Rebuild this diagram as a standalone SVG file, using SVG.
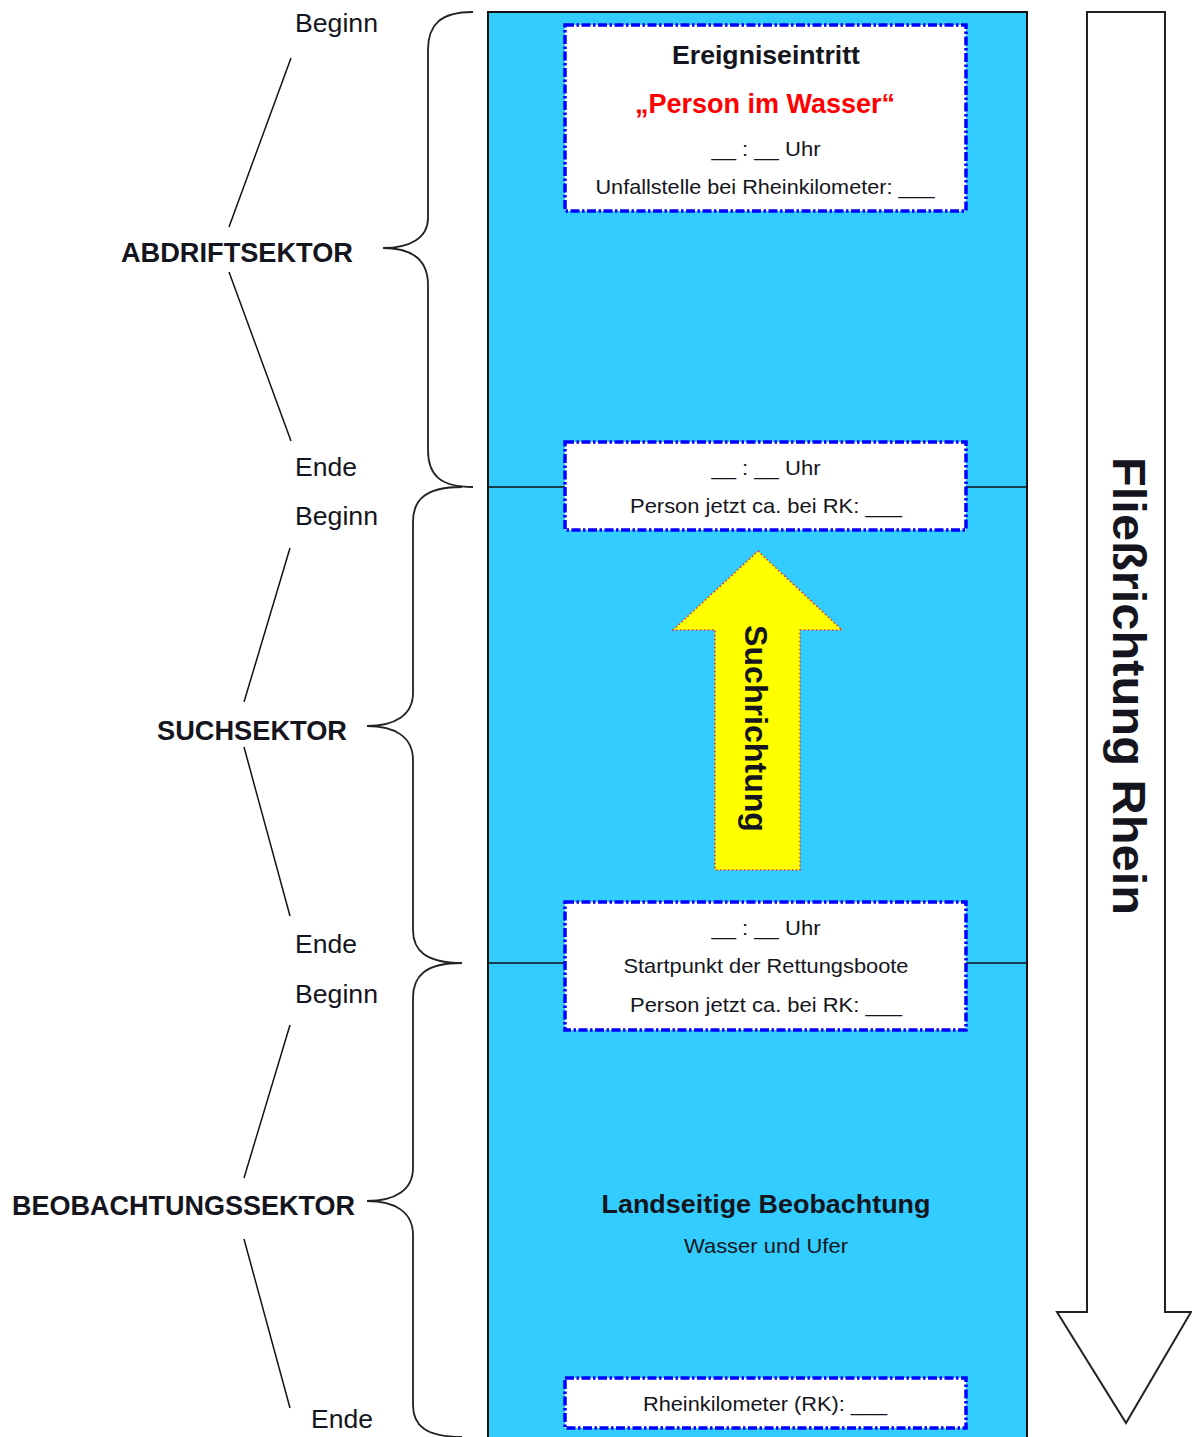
<svg xmlns="http://www.w3.org/2000/svg" width="1192" height="1437" viewBox="0 0 1192 1437">
<style>
text{font-family:"Liberation Sans",Arial,sans-serif;fill:#151520}
.c{text-anchor:middle}
.b{font-weight:bold}
.box{fill:#fff;stroke:#0000ff;stroke-width:3.5;stroke-dasharray:9 2.5 2.5 2.5}
.ln{stroke:#111;stroke-width:1.5;fill:none}
.br{stroke:#222;stroke-width:1.8;fill:none}
.lbl{font-size:25px}
.sec{font-size:27px;font-weight:bold}
.sm{font-size:21px}
</style>
<rect width="1192" height="1437" fill="#fff"/>
<g id="river">
<rect x="488" y="12" width="539" height="1440" fill="#33ccff" stroke="#111" stroke-width="2"/>
</g>
<g id="connectors">
<line class="ln" x1="488" y1="487" x2="565" y2="487"/>
<line class="ln" x1="966" y1="487" x2="1027" y2="487"/>
<line class="ln" x1="488" y1="963" x2="565" y2="963"/>
<line class="ln" x1="966" y1="963" x2="1027" y2="963"/>
<path class="br" d="M473,12 C440,12 428,25 428,50 L428,218 C428,238 410,248 383,248 C410,248 428,258 428,285 L428,450 C428,475 440,487 473,487"/>
<path class="br" d="M462,487 C425,487 413,500 413,522 L413,693 C413,715 395,726 367,726 C395,726 413,737 413,760 L413,930 C413,950 425,963 462,963"/>
<path class="br" d="M462,963 C425,963 413,976 413,998 L413,1168 C413,1190 395,1201 367,1201 C395,1201 413,1212 413,1235 L413,1405 C413,1425 425,1437 462,1437"/>
<line class="ln" x1="291" y1="58" x2="229" y2="227"/>
<line class="ln" x1="229" y1="272" x2="291" y2="441"/>
<line class="ln" x1="290" y1="548" x2="244" y2="702"/>
<line class="ln" x1="244" y1="747" x2="290" y2="916"/>
<line class="ln" x1="290" y1="1025" x2="244" y2="1178"/>
<line class="ln" x1="244" y1="1239" x2="290" y2="1408"/>
</g>
<g id="abdrift-labels">
<text class="lbl" x="295" y="32" textLength="83" lengthAdjust="spacingAndGlyphs">Beginn</text>
<text class="sec" x="121" y="262" textLength="232" lengthAdjust="spacingAndGlyphs">ABDRIFTSEKTOR</text>
<text class="lbl" x="295" y="476" textLength="62" lengthAdjust="spacingAndGlyphs">Ende</text>
</g>
<g id="such-labels">
<text class="lbl" x="295" y="525" textLength="83" lengthAdjust="spacingAndGlyphs">Beginn</text>
<text class="sec" x="157" y="740" textLength="190" lengthAdjust="spacingAndGlyphs">SUCHSEKTOR</text>
<text class="lbl" x="295" y="953" textLength="62" lengthAdjust="spacingAndGlyphs">Ende</text>
</g>
<g id="beob-labels">
<text class="lbl" x="295" y="1003" textLength="83" lengthAdjust="spacingAndGlyphs">Beginn</text>
<text class="sec" x="12" y="1215" textLength="343" lengthAdjust="spacingAndGlyphs">BEOBACHTUNGSSEKTOR</text>
<text class="lbl" x="311" y="1428" textLength="62" lengthAdjust="spacingAndGlyphs">Ende</text>
</g>
<g id="box-ereignis">
<rect class="box" x="565" y="25" width="401" height="186"/>
<text class="c b" x="766" y="64" font-size="26" textLength="188" lengthAdjust="spacingAndGlyphs">Ereigniseintritt</text>
<text class="c b" x="765" y="113" font-size="27" style="fill:#ff0000" textLength="260" lengthAdjust="spacingAndGlyphs">„Person im Wasser“</text>
<text class="c sm" x="766" y="156" textLength="109" lengthAdjust="spacingAndGlyphs">__ : __ Uhr</text>
<text class="c sm" x="765" y="194" textLength="339" lengthAdjust="spacingAndGlyphs">Unfallstelle bei Rheinkilometer: ___</text>
</g>
<g id="box-person1">
<rect class="box" x="565" y="442" width="401" height="88"/>
<text class="c sm" x="766" y="475" textLength="109" lengthAdjust="spacingAndGlyphs">__ : __ Uhr</text>
<text class="c sm" x="766" y="513" textLength="272" lengthAdjust="spacingAndGlyphs">Person jetzt ca. bei RK: ___</text>
</g>
<g id="arrow-such">
<polygon points="758,551 842,630 800,630 800,870 715,870 715,630 673,630" fill="#ffff00" stroke="#ff2020" stroke-width="1.5" stroke-dasharray="1.5 2.5"/>
<text class="c b" transform="translate(745,728.5) rotate(90)" font-size="31" textLength="207" lengthAdjust="spacingAndGlyphs">Suchrichtung</text>
</g>
<g id="box-start">
<rect class="box" x="565" y="902" width="401" height="128"/>
<text class="c sm" x="766" y="935" textLength="109" lengthAdjust="spacingAndGlyphs">__ : __ Uhr</text>
<text class="c sm" x="766" y="973" textLength="285" lengthAdjust="spacingAndGlyphs">Startpunkt der Rettungsboote</text>
<text class="c sm" x="766" y="1012" textLength="272" lengthAdjust="spacingAndGlyphs">Person jetzt ca. bei RK: ___</text>
</g>
<g id="beobachtung">
<text class="c b" x="766" y="1213" font-size="26" textLength="329" lengthAdjust="spacingAndGlyphs">Landseitige Beobachtung</text>
<text class="c sm" x="766" y="1253" textLength="164" lengthAdjust="spacingAndGlyphs">Wasser und Ufer</text>
</g>
<g id="box-rk">
<rect class="box" x="565" y="1378" width="401" height="50"/>
<text class="c sm" x="765" y="1411" textLength="244" lengthAdjust="spacingAndGlyphs">Rheinkilometer (RK): ___</text>
</g>
<g id="arrow-fliess">
<polygon points="1087,12 1165,12 1165,1312 1191,1312 1126,1423 1057,1312 1087,1312" fill="#fff" stroke="#222" stroke-width="2" stroke-linejoin="miter"/>
<text class="c b" transform="translate(1113,686) rotate(90)" font-size="46" textLength="458" lengthAdjust="spacingAndGlyphs">Fließrichtung Rhein</text>
</g>
</svg>
